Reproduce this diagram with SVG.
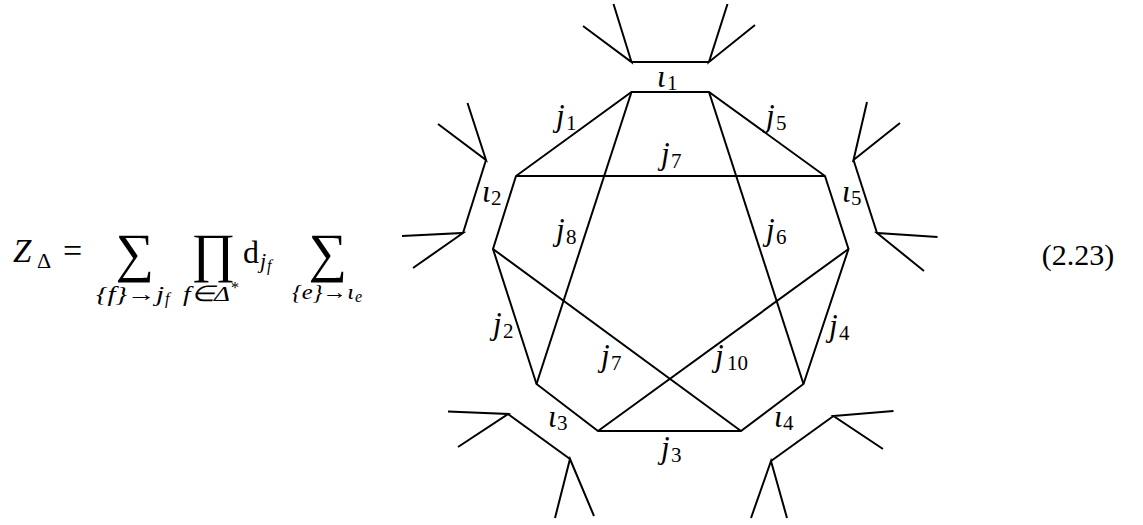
<svg xmlns="http://www.w3.org/2000/svg" width="1143" height="525" viewBox="0 0 1143 525">
<rect width="1143" height="525" fill="#fff"/>

<g id="formula">
  <text font-family="Liberation Serif, serif" x="13" y="262" font-size="33" font-style="italic">Z</text>
  <text font-family="Liberation Serif, serif" x="37" y="268" font-size="22">Δ</text>
  <text font-family="Liberation Serif, serif" x="72.5" y="262" font-size="34" text-anchor="middle">=</text>
  <text font-family="Liberation Serif, serif" x="135" y="271" font-size="54" text-anchor="middle">∑</text>
  <text font-family="Liberation Serif, serif" x="213.5" y="271" font-size="54" text-anchor="middle">∏</text>
  <text font-family="Liberation Serif, serif" x="243" y="263" font-size="32">d</text>
  <text font-family="Liberation Serif, serif" x="260" y="268" font-size="22" font-style="italic">j</text>
  <text font-family="Liberation Serif, serif" x="267" y="271" font-size="16" font-style="italic">f</text>
  <text font-family="Liberation Serif, serif" x="328" y="271" font-size="54" text-anchor="middle">∑</text>
  <text font-family="Liberation Serif, serif" x="96" y="301" font-size="22" font-style="italic" textLength="68" lengthAdjust="spacingAndGlyphs">{f}→j</text>
  <text font-family="Liberation Serif, serif" x="165" y="304" font-size="16" font-style="italic">f</text>
  <text font-family="Liberation Serif, serif" x="183" y="301" font-size="22" font-style="italic" textLength="47" lengthAdjust="spacingAndGlyphs">f∈Δ</text>
  <text font-family="Liberation Serif, serif" x="231" y="293" font-size="16">*</text>
  <text font-family="Liberation Serif, serif" x="292" y="299" font-size="22" font-style="italic" textLength="62" lengthAdjust="spacingAndGlyphs">{e}→ι</text>
  <text font-family="Liberation Serif, serif" x="355" y="302" font-size="16" font-style="italic">e</text>
</g>

<g id="connectors" fill="none" stroke="#000" stroke-width="2">
  <path id="decagon" d="M631.5,92 L709,92 L825,176 L848.5,249 L803.5,384 L741,431 L598,431 L536.5,384 L493,249 L516,176 Z"/>
  <g id="diagonals">
    <path d="M516,176 L825,176"/>
    <path d="M631.5,92 L536.5,384"/>
    <path d="M709,92 L803.5,384"/>
    <path d="M493,249 L741,431"/>
    <path d="M848.5,249 L598,431"/>
  </g>
  <g id="leg-top">
    <path d="M631.5,62 L709,62"/>
    <path d="M613.5,4 L631.5,62 L583,26"/>
    <path d="M727.5,4 L709,62 L755,25"/>
  </g>
  <g id="leg-left">
    <path d="M486,160 L463,233"/>
    <path d="M467.5,103 L486,160 L438,124"/>
    <path d="M402,236 L463,233 L413,268"/>
  </g>
  <g id="leg-right">
    <path d="M853.5,160 L877,233"/>
    <path d="M867,102 L853.5,160 L900,123"/>
    <path d="M937.5,237 L877,233 L924,271"/>
  </g>
  <g id="leg-bottom-left">
    <path d="M508,414 L570,459"/>
    <path d="M448,411.5 L508,414 L458,447"/>
    <path d="M555,518 L570,459 L594,516"/>
  </g>
  <g id="leg-bottom-right">
    <path d="M833.5,416 L771,461"/>
    <path d="M893.5,411 L833.5,416 L883,449"/>
    <path d="M751,518 L771,461 L787,518"/>
  </g>
</g>

<g id="labels">
  <text font-family="Liberation Serif, serif" x="657" y="87" font-size="31" font-style="italic">ι</text>
  <text font-family="Liberation Serif, serif" x="667" y="90" font-size="21">1</text>
  <text font-family="Liberation Serif, serif" x="556" y="126" font-size="31" font-style="italic">j</text>
  <text font-family="Liberation Serif, serif" x="566" y="130" font-size="21">1</text>
  <text font-family="Liberation Serif, serif" x="766" y="126" font-size="31" font-style="italic">j</text>
  <text font-family="Liberation Serif, serif" x="776" y="130" font-size="21">5</text>
  <text font-family="Liberation Serif, serif" x="661" y="164" font-size="31" font-style="italic">j</text>
  <text font-family="Liberation Serif, serif" x="671" y="168" font-size="21">7</text>
  <text font-family="Liberation Serif, serif" x="482" y="202" font-size="31" font-style="italic">ι</text>
  <text font-family="Liberation Serif, serif" x="491" y="205" font-size="21">2</text>
  <text font-family="Liberation Serif, serif" x="842" y="202" font-size="31" font-style="italic">ι</text>
  <text font-family="Liberation Serif, serif" x="851" y="205" font-size="21">5</text>
  <text font-family="Liberation Serif, serif" x="556" y="240" font-size="31" font-style="italic">j</text>
  <text font-family="Liberation Serif, serif" x="566" y="244" font-size="21">8</text>
  <text font-family="Liberation Serif, serif" x="766" y="240" font-size="31" font-style="italic">j</text>
  <text font-family="Liberation Serif, serif" x="776" y="244" font-size="21">6</text>
  <text font-family="Liberation Serif, serif" x="493" y="334" font-size="31" font-style="italic">j</text>
  <text font-family="Liberation Serif, serif" x="503" y="338" font-size="21">2</text>
  <text font-family="Liberation Serif, serif" x="829" y="336" font-size="31" font-style="italic">j</text>
  <text font-family="Liberation Serif, serif" x="839" y="340" font-size="21">4</text>
  <text font-family="Liberation Serif, serif" x="601" y="366" font-size="31" font-style="italic">j</text>
  <text font-family="Liberation Serif, serif" x="611" y="370" font-size="21">7</text>
  <text font-family="Liberation Serif, serif" x="715" y="366" font-size="31" font-style="italic">j</text>
  <text font-family="Liberation Serif, serif" x="727" y="370" font-size="21">10</text>
  <text font-family="Liberation Serif, serif" x="548" y="427" font-size="31" font-style="italic">ι</text>
  <text font-family="Liberation Serif, serif" x="557" y="430" font-size="21">3</text>
  <text font-family="Liberation Serif, serif" x="774" y="427" font-size="31" font-style="italic">ι</text>
  <text font-family="Liberation Serif, serif" x="783" y="430" font-size="21">4</text>
  <text font-family="Liberation Serif, serif" x="661" y="458" font-size="31" font-style="italic">j</text>
  <text font-family="Liberation Serif, serif" x="671" y="462" font-size="21">3</text>
</g>

<text id="eqno" font-family="Liberation Serif, serif" x="1078" y="265" font-size="30" text-anchor="middle">(2.23)</text>
</svg>
